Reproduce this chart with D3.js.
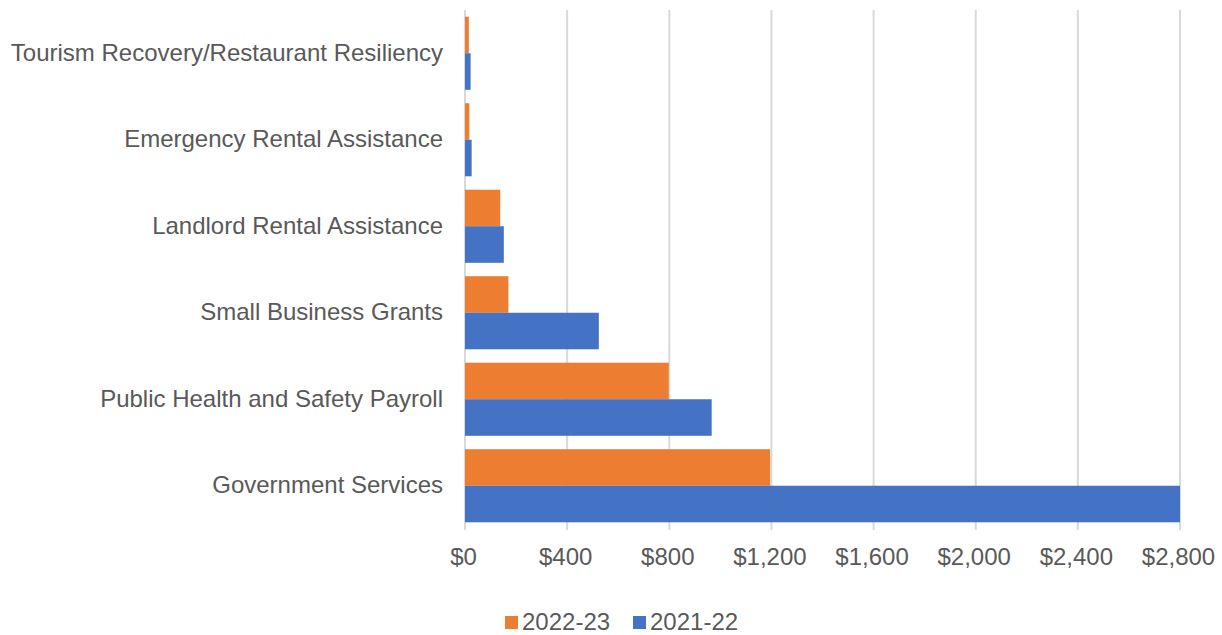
<!DOCTYPE html>
<html>
<head>
<meta charset="utf-8">
<script src="https://cdn.jsdelivr.net/npm/d3@7"></script>
<style>
  body { margin: 0; background: #fff; }
  svg text { font-family: "Liberation Sans", Arial, sans-serif; fill: #595959; }
</style>
</head>
<body>
<div id="container"></div>
<script>
const w = 1222,
  h = 635,
  plotLeft = 465,
  plotRight = 1180,
  plotTop = 10,
  plotBottom = 529,
  fontSize = '24px';

const categories = [
  'Tourism Recovery/Restaurant Resiliency',
  'Emergency Rental Assistance',
  'Landlord Rental Assistance',
  'Small Business Grants',
  'Public Health and Safety Payroll',
  'Government Services',
];
const series = ['2022-23', '2021-22'];
const values2022 = [15, 17, 138, 170, 798, 1195];
const values2021 = [22, 26, 152, 524, 966, 2800];
const ticks = [0, 400, 800, 1200, 1600, 2000, 2400, 2800];
const colors = { '2022-23': '#ED7D31', '2021-22': '#4472C4' };

const rows = categories.map((c, i) => ({
  category: c,
  '2022-23': values2022[i],
  '2021-22': values2021[i],
}));

const svg = d3
  .select('#container')
  .append('svg')
  .attr('width', w)
  .attr('height', h);

const xScale = d3.scaleLinear().domain([0, 2800]).range([plotLeft, plotRight]);

const yScale = d3
  .scaleBand()
  .domain(categories)
  .range([plotTop, plotBottom])
  .paddingInner(0.155)
  .paddingOuter(0.0775);

const inner = d3
  .scaleBand()
  .domain(series)
  .range([0, yScale.bandwidth()]);

// gridlines
svg
  .append('g')
  .selectAll('line')
  .data(ticks)
  .enter()
  .append('line')
  .attr('x1', (d) => xScale(d))
  .attr('x2', (d) => xScale(d))
  .attr('y1', plotTop)
  .attr('y2', plotBottom + 1)
  .attr('stroke', '#d9d9d9')
  .attr('stroke-width', 2);

// bars
const groups = svg
  .append('g')
  .selectAll('g')
  .data(rows)
  .enter()
  .append('g')
  .attr('transform', (d) => 'translate(0,' + yScale(d.category) + ')');

groups
  .selectAll('rect')
  .data((d) => series.map((s) => ({ key: s, value: d[s] })))
  .enter()
  .append('rect')
  .attr('x', xScale(0))
  .attr('y', (d) => inner(d.key))
  .attr('width', (d) => xScale(d.value) - xScale(0))
  .attr('height', inner.bandwidth())
  .attr('fill', (d) => colors[d.key]);

// x axis labels
const xAxis = d3
  .axisBottom(xScale)
  .tickValues(ticks)
  .tickSize(0)
  .tickPadding(19)
  .tickFormat((d) => '$' + d3.format(',')(d));

const gx = svg
  .append('g')
  .attr('transform', 'translate(-2,' + plotBottom + ')')
  .call(xAxis);
gx.select('.domain').remove();
gx.selectAll('text')
  .style('font-size', fontSize)
  .attr('fill', '#595959')
  .style('font-family', '"Liberation Sans", Arial, sans-serif');

// y axis labels
const yAxis = d3.axisLeft(yScale).tickSize(0).tickPadding(22);
const gy = svg
  .append('g')
  .attr('transform', 'translate(' + plotLeft + ',0)')
  .call(yAxis);
gy.select('.domain').remove();
gy.selectAll('text')
  .style('font-size', fontSize)
  .attr('fill', '#595959')
  .style('font-family', '"Liberation Sans", Arial, sans-serif');

// legend
const legendItems = [
  { key: '2022-23', x: 505 },
  { key: '2021-22', x: 633 },
];
const legend = svg
  .append('g')
  .selectAll('g')
  .data(legendItems)
  .enter()
  .append('g')
  .attr('transform', (d) => 'translate(' + d.x + ',616)');
legend
  .append('rect')
  .attr('width', 13)
  .attr('height', 13)
  .attr('fill', (d) => colors[d.key]);
legend
  .append('text')
  .attr('x', 17)
  .attr('y', 14)
  .style('font-size', fontSize)
  .text((d) => d.key);
</script>
</body>
</html>
